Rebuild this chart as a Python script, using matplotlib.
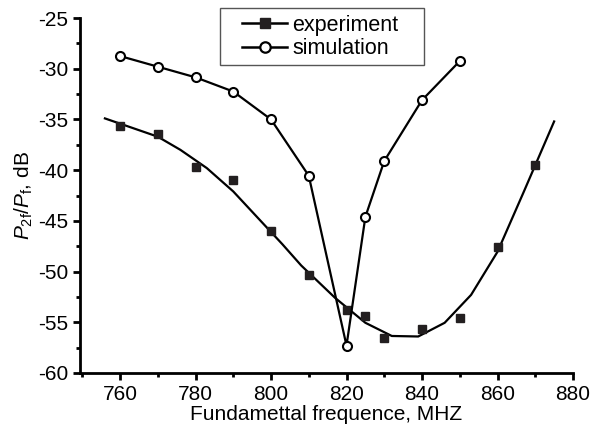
import matplotlib
matplotlib.use("Agg")
import matplotlib.pyplot as plt
from matplotlib.lines import Line2D
from matplotlib.patches import Rectangle
from matplotlib.ticker import MultipleLocator

plt.rcParams['font.family'] = ['Liberation Sans', 'DejaVu Sans']
plt.rcParams['mathtext.fontset'] = 'custom'
plt.rcParams['mathtext.rm'] = 'Liberation Sans'
plt.rcParams['mathtext.it'] = 'Liberation Sans:italic'
plt.rcParams['axes.unicode_minus'] = False

# experiment measurements
exp_x = [760, 770, 780, 790, 800, 810, 820, 825, 830, 840, 850, 860, 870]
exp_y = [-35.6, -36.4, -39.7, -41.0, -46.0, -50.3, -53.8, -54.4, -56.5, -55.7, -54.6, -47.6, -39.5]

# experiment fit curve
fit_x = [756, 763, 770, 776, 783, 790, 797, 803, 808, 817, 825, 832, 839, 846, 853, 860, 867, 875]
fit_y = [-34.9, -35.8, -36.7, -38.0, -39.8, -42.1, -44.9, -47.3, -49.4, -52.6, -55.05, -56.35,
         -56.4, -55.05, -52.3, -48.05, -42.1, -35.2]

# simulation
sim_x = [760, 770, 780, 790, 800, 810, 820, 825, 830, 840, 850]
sim_y = [-28.75, -29.8, -30.85, -32.25, -35.0, -40.55, -57.3, -44.6, -39.1, -33.1, -29.25]

x_ticks = [760, 780, 800, 820, 840, 860, 880]
y_ticks = [-60, -55, -50, -45, -40, -35, -30, -25]

fig = plt.figure(figsize=(5.92, 4.32), dpi=100)
ax = fig.add_axes([80/592, 59/432, 493/592, 355/432])

ax.plot(fit_x, fit_y, color='black', lw=1.6, zorder=2)
ax.plot(exp_x, exp_y, linestyle='none', marker='s', color='#231f20', markersize=5.5, zorder=3)
ax.plot(sim_x, sim_y, color='black', lw=1.6, marker='o', markersize=6.5,
        markerfacecolor='white', markeredgecolor='black', markeredgewidth=1.5, zorder=3)

ax.set_xlim(749.4, 880)
ax.set_ylim(-60, -25)
ax.set_xticks(x_ticks)
ax.set_yticks(y_ticks)
ax.xaxis.set_minor_locator(MultipleLocator(10))
ax.yaxis.set_minor_locator(MultipleLocator(2.5))

for s in ['top', 'right']:
    ax.spines[s].set_visible(False)
for s in ['left', 'bottom']:
    ax.spines[s].set_linewidth(2)
ax.tick_params(which='major', direction='out', length=5, width=2, labelsize=15, pad=3.5)
ax.tick_params(which='minor', direction='out', length=3, width=2)

ax.set_xlabel('Fundamettal frequence, MHZ', fontsize=15, labelpad=1)
ax.set_ylabel(r'$P_{\mathrm{2f}}/P_{\mathrm{f}}$, dB', fontsize=15, labelpad=2)

# legend box
fig.patches.append(Rectangle((220/592, (432-65)/432), 204/592, 57/432, transform=fig.transFigure,
                             facecolor='white', edgecolor='#555555', linewidth=1.0, zorder=5))

h1 = Line2D([], [], color='black', lw=1.8, marker='s', markersize=7, markerfacecolor='#231f20',
            markeredgecolor='#231f20')
h2 = Line2D([], [], color='black', lw=1.8, marker='o', markersize=7.5, markerfacecolor='white',
            markeredgecolor='black', markeredgewidth=1.6)
leg = fig.legend([h1, h2], ['experiment', 'simulation'], loc='center left',
                 bbox_to_anchor=(242/592, (432-37)/432), bbox_transform=fig.transFigure,
                 fontsize=15.5, frameon=False, handlelength=2.1,
                 handletextpad=0.25, labelspacing=0.12, borderpad=0, borderaxespad=0)
leg.set_zorder(6)

fig.savefig('out.png', dpi=100)
